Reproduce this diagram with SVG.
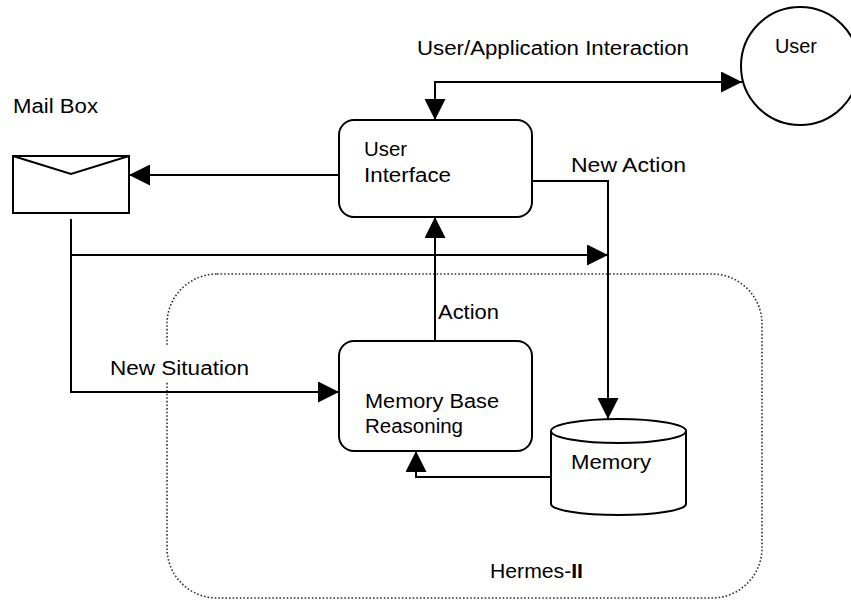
<svg xmlns="http://www.w3.org/2000/svg" width="851" height="601" viewBox="0 0 851 601">
<style>
.ln{fill:none;stroke:#000;stroke-width:2}
.box{fill:#fff;stroke:#000;stroke-width:2}
.t{font-family:"Liberation Sans",Arial,sans-serif;font-size:20px;fill:#000}
.dot{fill:none;stroke:#333;stroke-width:1.6;stroke-dasharray:1.6 2}
</style>
<defs>
<marker id="ah" markerUnits="userSpaceOnUse" markerWidth="21" markerHeight="21" viewBox="0 0 20 20" refX="20" refY="10" orient="auto-start-reverse">
<path d="M0,0 L20,10 L0,20 z" fill="#000"/>
</marker>
</defs>
<rect width="851" height="601" fill="#fff"/>
<g id="hermes">
<rect class="dot" x="167" y="274" width="595" height="324" rx="50" ry="50"/>
<text class="t" x="490" y="578" textLength="93" lengthAdjust="spacingAndGlyphs">Hermes-<tspan font-weight="bold">II</tspan></text>
</g>
<g id="connectors">
<path class="ln" d="M339,175 L129,175" marker-end="url(#ah)"/>
<path class="ln" d="M71,219 L71,392 L339,392" marker-end="url(#ah)"/>
<path class="ln" d="M71,255 L608,255" marker-end="url(#ah)"/>
<path class="ln" d="M435,120 L435,82 L742,82" marker-start="url(#ah)" marker-end="url(#ah)"/>
<path class="ln" d="M532,181 L608,181 L608,419" marker-end="url(#ah)"/>
<path class="ln" d="M435,345 L435,217" marker-end="url(#ah)"/>
<path class="ln" d="M551,477 L416,477 L416,451" marker-end="url(#ah)"/>
<rect x="104" y="346" width="150" height="36" fill="#fff"/>
<text class="t" x="110" y="375" textLength="139" lengthAdjust="spacingAndGlyphs">New Situation</text>
<text class="t" x="417" y="55" textLength="272" lengthAdjust="spacingAndGlyphs">User/Application Interaction</text>
<text class="t" x="571" y="172" textLength="115" lengthAdjust="spacingAndGlyphs">New Action</text>
<text class="t" x="438" y="319" textLength="61" lengthAdjust="spacingAndGlyphs">Action</text>
</g>
<g id="mailbox">
<text class="t" x="13" y="113" textLength="85" lengthAdjust="spacingAndGlyphs">Mail Box</text>
<rect class="box" x="13" y="156" width="116" height="57"/>
<polyline class="ln" points="13,156 71,174 129,156"/>
</g>
<g id="user">
<circle class="box" cx="800" cy="66" r="59"/>
<text class="t" x="775" y="53" textLength="42" lengthAdjust="spacingAndGlyphs">User</text>
</g>
<g id="user-interface">
<rect class="box" x="339" y="120" width="193" height="97" rx="15" ry="15"/>
<text class="t" x="364" y="156" textLength="43" lengthAdjust="spacingAndGlyphs">User</text>
<text class="t" x="364" y="182" textLength="87" lengthAdjust="spacingAndGlyphs">Interface</text>
</g>
<g id="mbr">
<rect class="box" x="339" y="341" width="193" height="110" rx="15" ry="15"/>
<text class="t" x="365" y="408" textLength="134" lengthAdjust="spacingAndGlyphs">Memory Base</text>
<text class="t" x="365" y="433" textLength="98" lengthAdjust="spacingAndGlyphs">Reasoning</text>
</g>
<g id="memory">
<path class="box" d="M551,431 L551,504 A67.5,11 0 0 0 686,504 L686,431 A67.5,12 0 0 0 551,431 Z"/>
<path class="ln" d="M551,431 A67.5,12 0 0 0 686,431"/>
<text class="t" x="571" y="469" textLength="80" lengthAdjust="spacingAndGlyphs">Memory</text>
</g>
</svg>
